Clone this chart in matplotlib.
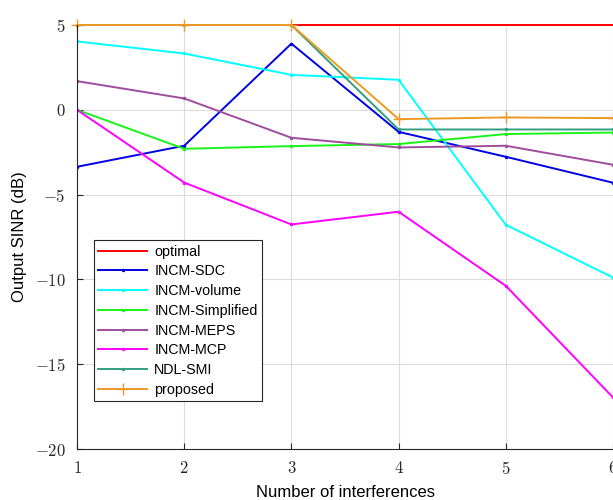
import matplotlib
matplotlib.use("Agg")
import matplotlib.pyplot as plt

plt.rcParams['mathtext.fontset'] = 'cm'
plt.rcParams['font.family'] = ['Liberation Sans', 'DejaVu Sans']

# number of interferences
n_interf = [1, 2, 3, 4, 5, 6]

# output SINR (dB)
optimal = [5, 5, 5, 5, 5, 5]
incm_sdc = [-3.36, -2.12, 3.9, -1.3, -2.77, -4.3]
incm_volume = [4.03, 3.32, 2.06, 1.77, -6.78, -9.89]
incm_simplified = [0.0, -2.3, -2.14, -2.02, -1.43, -1.34]
incm_meps = [1.69, 0.67, -1.65, -2.22, -2.12, -3.24]
incm_mcp = [0.0, -4.29, -6.76, -6.01, -10.38, -16.96]
ndl_smi = [5, 5, 5, -1.16, -1.16, -1.16]
proposed = [5, 5, 5, -0.55, -0.45, -0.49]

fig = plt.figure(figsize=(6.13, 5.0), dpi=100)
ax = fig.add_axes([77/613, 51/500, 536/613, 424/500])

lw = 1.4
ax.plot(n_interf, optimal, color=(1, 0, 0), lw=lw, label="optimal", clip_on=False, zorder=2)
ax.plot(n_interf, incm_sdc, color=(0, 0, 0.9), lw=lw, marker='.', ms=3, label="INCM-SDC")
ax.plot(n_interf, incm_volume, color=(0, 1, 1), lw=lw, marker='.', ms=3, label="INCM-volume")
ax.plot(n_interf, incm_simplified, color=(0.1, 0.95, 0.1), lw=lw, marker='.', ms=3, label="INCM-Simplified")
ax.plot(n_interf, incm_meps, color=(0.62, 0.3, 0.62), lw=lw, marker='.', ms=3, label="INCM-MEPS")
ax.plot(n_interf, incm_mcp, color=(1, 0, 1), lw=lw, marker='.', ms=3, label="INCM-MCP")
ax.plot(n_interf, ndl_smi, color=(0.2, 0.62, 0.5), lw=lw, marker='.', ms=3, label="NDL-SMI",
        clip_on=False, zorder=2.1)
ax.plot(n_interf, proposed, color=(0.93, 0.6, 0.15), lw=lw, marker='+', ms=8, label="proposed",
        clip_on=False, zorder=2.2)

ax.set_xlim(1, 6)
ax.set_ylim(-20, 5)
ax.set_xticks(n_interf)
ax.set_xticklabels([f"${v}$" for v in n_interf])
yt = [-20, -15, -10, -5, 0, 5]
ax.set_yticks(yt)
ax.set_yticklabels([f"${v}$" for v in yt])
ax.tick_params(direction='in', length=4, labelsize=12, colors='#262626', pad=8)
ax.grid(True, color='#dcdcdc', lw=0.8)
ax.set_axisbelow(True)
for s in ['top', 'right']:
    ax.spines[s].set_visible(False)
for s in ['left', 'bottom']:
    ax.spines[s].set_color('#262626')
    ax.spines[s].set_linewidth(0.8)

ax.set_xlabel("Number of interferences", fontsize=12, labelpad=6)
ax.set_ylabel("Output SINR (dB)", fontsize=12, labelpad=6)

leg = ax.legend(loc='lower left', bbox_to_anchor=(0.032, 0.113), borderaxespad=0,
                fontsize=10.3, handlelength=3.4, labelspacing=0.4, fancybox=False,
                framealpha=1, edgecolor='#262626', borderpad=0.3, handletextpad=0.5)
leg.get_frame().set_linewidth(0.8)
leg.set_zorder(5)

fig.savefig("out.png", dpi=100)
